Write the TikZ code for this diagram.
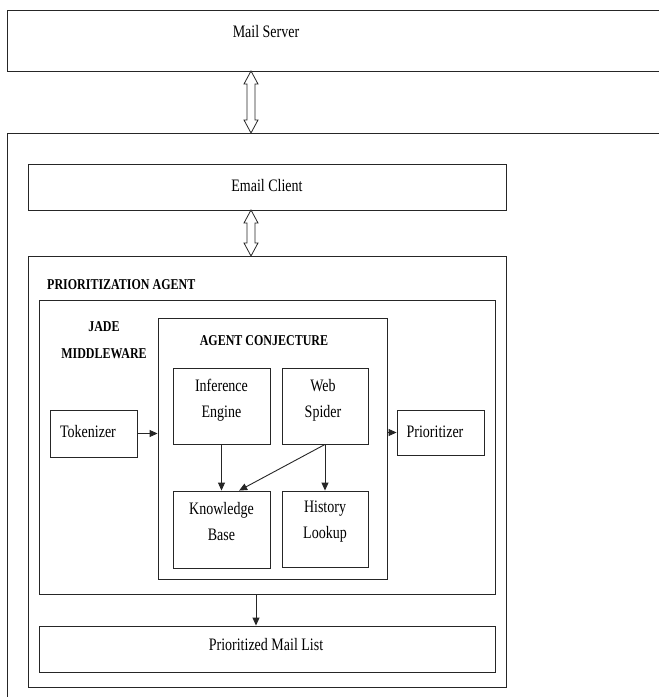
\documentclass[tikz,border=0pt]{standalone}
\usepackage{fontspec}
\usepackage{graphicx}
\setmainfont{Liberation Serif}
\usetikzlibrary{arrows.meta,calc}

% lettering is set slightly tall
\newcommand\tall[1]{\scalebox{1}[1.25]{#1}}

\tikzset{
  box/.style={draw=black!85, line width=0.9pt, rectangle, inner sep=0pt},
  lbl/.style={inner sep=0pt, align=center, font=\fontsize{14}{26}\selectfont},
  head/.style={inner sep=0pt, align=center, font=\fontsize{12}{27}\selectfont\bfseries},
  flow/.style={draw=black!85, line width=0.9pt, -{Triangle[length=8pt,width=7pt]}},
  hollow/.style={draw=black!85, line width=0.8pt, fill=white},
}

% hollow two-headed arrow between two points on one vertical line
\newcommand\hollowlink[2]{%
  \draw[hollow] let \p1=(#1), \p2=(#2) in
    (\x1,\y1) -- (\x1+7pt,\y1-13pt) -- (\x1+4pt,\y1-13pt) -- (\x1+4pt,\y2+13pt)
    -- (\x1+7pt,\y2+13pt) -- (\x1,\y2) -- (\x1-7pt,\y2+13pt) -- (\x1-4pt,\y2+13pt)
    -- (\x1-4pt,\y1-13pt) -- (\x1-7pt,\y1-13pt) -- cycle;}

\begin{document}
\begin{tikzpicture}[x=1pt,y=-1pt]
\fill[white] (0,0) rectangle (659,697);
\useasboundingbox (0,0) rectangle (659,697);

% outer frames (they run past the right and bottom edges)
\node[box, minimum width=658, minimum height=61] (ms) at (336,40.5) {};
\node[lbl] (mst) at (266,32) {\tall{Mail Server}};
\node[box, minimum width=693, minimum height=587] (host) at (353.5,426.5) {};

% email client
\node[box, minimum width=478, minimum height=46] (ec) at (267,187) {};
\node[lbl] (ect) at (267,186) {\tall{Email Client}};

% prioritization agent
\node[box, minimum width=478, minimum height=431] (pa) at (267,471.5) {};
\node[head, anchor=west] (pat) at (47,285) {\tall{PRIORITIZATION AGENT}};

% JADE middleware
\node[box, minimum width=456, minimum height=294] (jade) at (267,447) {};
\node[head] (jadet) at (104,340) {\tall{JADE}\\\tall{MIDDLEWARE}};

% agent conjecture
\node[box, minimum width=229, minimum height=261] (ac) at (272.5,448.5) {};
\node[head] (act) at (264,341) {\tall{AGENT CONJECTURE}};

\node[box, minimum width=97, minimum height=76] (ie) at (221.5,406) {};
\node[lbl] (iet) at (221.5,400) {\tall{Inference}\\\tall{Engine}};
\node[box, minimum width=86, minimum height=76] (ws) at (325,406) {};
\node[lbl] (wst) at (323,400) {\tall{Web}\\\tall{Spider}};
\node[box, minimum width=97, minimum height=77] (kb) at (221.5,529.5) {};
\node[lbl] (kbt) at (221.5,522) {\tall{Knowledge}\\\tall{Base}};
\node[box, minimum width=86, minimum height=76] (hl) at (325,529) {};
\node[lbl] (hlt) at (325,522) {\tall{History}\\\tall{Lookup}};

% tokenizer and prioritizer
\node[box, minimum width=87, minimum height=47] (tk) at (93.5,433.5) {};
\node[lbl] (tkt) at (88,432) {\tall{Tokenizer}};
\node[box, minimum width=87, minimum height=45] (pr) at (440.5,432.5) {};
\node[lbl] (prt) at (435,432) {\tall{Prioritizer}};

% output list
\node[box, minimum width=456, minimum height=46] (pml) at (267,649) {};
\node[lbl] (pmlt) at (266,645) {\tall{Prioritized Mail List}};

% two-way links
\coordinate (l1a) at (251,71);
\coordinate (l1b) at (251,133);
\coordinate (l2a) at (251,210);
\coordinate (l2b) at (251,256);
\hollowlink{l1a}{l1b}
\hollowlink{l2a}{l2b}

% data flow
\draw[flow] (tk.east) -- (tk.east -| ac.west);
\draw[flow] (ac.east |- pr.west) -- (pr.west);
\draw[flow] (ie.south) -- (kb.north);
\draw[flow] (ws.south) -- (hl.north);
\draw[flow] (ws.south) -- ($(kb.north west)!0.68!(kb.north east)$);
\coordinate (outx) at (256,0);
\draw[flow] (jade.south -| outx) -- (pml.north -| outx);
\end{tikzpicture}
\end{document}
